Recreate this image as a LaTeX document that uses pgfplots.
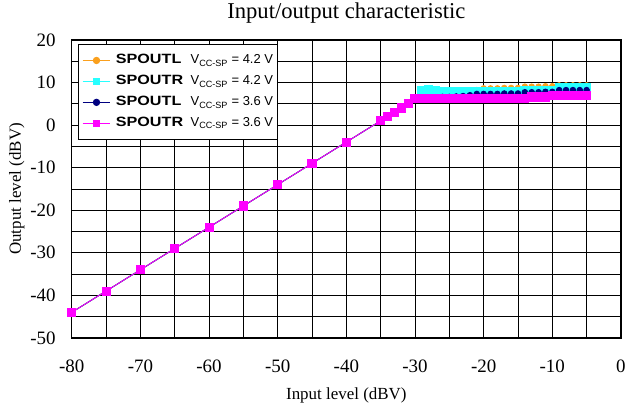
\documentclass[border=0pt]{standalone}
\usepackage{pgfplots}
\pgfplotsset{compat=1.18}
\usepackage{fontspec}
\setmainfont{Liberation Serif}
\newfontfamily\arial{Liberation Sans}

\definecolor{cOrange}{RGB}{250,160,30}
\definecolor{cCyan}{RGB}{40,255,255}
\definecolor{cNavy}{RGB}{0,0,128}
\definecolor{cMagenta}{RGB}{255,0,255}

\newcommand{\entry}[2]{\hspace{5pt}\makebox[75pt][l]{\scalebox{1.2}[1]{\fontsize{13.5}{16}\selectfont\bfseries #1}}V\textsubscript{CC-SP} = #2 V}

\begin{document}
\begin{tikzpicture}
\begin{axis}[
  scale only axis,
  width=551pt, height=299pt,
  xmin=-80, xmax=0, ymin=-50, ymax=20,
  xtick={-80,-70,...,0}, minor xtick={-75,-65,...,-5},
  ytick={-50,-40,...,20}, minor ytick={-45,-35,...,15},
  xticklabels={-80,-70,-60,-50,-40,-30,-20,-10,0},
  yticklabels={-50,-40,-30,-20,-10,0,10,20},
  grid=both,
  major grid style={black, line width=0.6pt},
  minor grid style={black, line width=0.6pt},
  axis line style={line width=1.4pt},
  tick style={draw=none},
  tick label style={font=\fontsize{19}{19}\selectfont},
  xticklabel style={anchor=center, yshift=-28pt},
  yticklabel style={anchor=east, inner sep=0pt, xshift=-16pt},
  xlabel={Input level (dBV)},
  ylabel={Output level (dBV)},
  xlabel style={at={(axis description cs:0.5,-0.194)}, anchor=center},
  ylabel style={at={(axis description cs:-0.1,0.5)}, anchor=center},
  label style={font=\fontsize{17}{17}\selectfont},
  title={Input/output characteristic},
  title style={at={(axis description cs:0.5,1.05)}, anchor=base, inner sep=0pt,
    font=\fontsize{22.7}{23}\selectfont},
  legend style={at={(0.011,0.987)}, anchor=north west, draw=black, line width=0.6pt,
    font=\arial\fontsize{13}{16}\selectfont, row sep=6pt, inner xsep=4pt, inner ysep=9pt,
    nodes={inner sep=0pt, text height=11pt, text depth=4pt}},
  legend cell align=left,
  legend image code/.code={
    \draw[#1, mark size=3.2pt, mark repeat=2, mark phase=2]
      plot coordinates {(0pt,0pt) (14pt,0pt) (28pt,0pt)};
  },
]

% SPOUTL, VCC-SP = 4.2 V
\addplot[cOrange, line width=0.9pt, mark=*, mark size=2.8pt] coordinates {
 (-80,-44) (-75,-39) (-70,-34) (-65,-29) (-60,-24) (-55,-19) (-50,-14) (-45,-9) (-40,-4)
 (-35,1) (-34,2) (-33,3) (-32,4) (-31,5) (-30,6.4)
 (-29,7.8) (-28,7.8) (-27,7.8) (-26,7.7) (-25,7.7) (-24,7.7) (-23,7.7) (-22,7.8) (-21,8.2)
 (-20,8.6) (-19,8.6) (-18,8.6) (-17,8.7) (-16,8.7) (-15,8.7)
 (-14,9.0) (-13,9.0) (-12,9.0) (-11,9.1) (-10,9.1)
 (-9,9.3) (-8,9.3) (-7,9.3) (-6,9.3) (-5,9.3)
};
% SPOUTR, VCC-SP = 4.2 V
\addplot[cCyan, line width=0.9pt, mark=square*, mark size=4.1pt] coordinates {
 (-80,-44) (-75,-39) (-70,-34) (-65,-29) (-60,-24) (-55,-19) (-50,-14) (-45,-9) (-40,-4)
 (-35,1) (-34,2) (-33,3) (-32,4) (-31,5) (-30,6.3)
 (-29,8.2) (-28,8.3) (-27,8.2) (-26,7.9) (-25,7.8) (-24,7.8) (-23,7.8) (-22,7.8) (-21,7.8)
 (-20,7.8) (-19,7.8) (-18,7.8) (-17,7.8) (-16,7.8) (-15,7.8)
 (-14,8.2) (-13,8.2) (-12,8.2) (-11,8.2) (-10,8.2)
 (-9,8.7) (-8,8.7) (-7,8.7) (-6,8.7) (-5,8.7)
};
% SPOUTL, VCC-SP = 3.6 V
\addplot[cNavy, line width=0.9pt, mark=*, mark size=2.8pt] coordinates {
 (-80,-44) (-75,-39) (-70,-34) (-65,-29) (-60,-24) (-55,-19) (-50,-14) (-45,-9) (-40,-4)
 (-35,1) (-34,2) (-33,3) (-32,4) (-31,5) (-30,6.2)
 (-29,6.5) (-28,6.5) (-27,6.5) (-26,6.6) (-25,6.6) (-24,6.7) (-23,6.8) (-22,7.0) (-21,7.3)
 (-20,7.3) (-19,7.3) (-18,7.3) (-17,7.4) (-16,7.4) (-15,7.4)
 (-14,7.7) (-13,7.7) (-12,7.7) (-11,7.8) (-10,7.8)
 (-9,8.2) (-8,8.2) (-7,8.2) (-6,8.2) (-5,8.2)
};
% SPOUTR, VCC-SP = 3.6 V
\addplot[cMagenta, line width=0.9pt, mark=square*, mark size=4.1pt] coordinates {
 (-80,-44) (-75,-39) (-70,-34) (-65,-29) (-60,-24) (-55,-19) (-50,-14) (-45,-9) (-40,-4)
 (-35,1) (-34,2) (-33,3) (-32,4) (-31,5) (-30,6.2)
 (-29,6.3) (-28,6.3) (-27,6.2) (-26,6.2) (-25,6.2) (-24,6.2) (-23,6.2) (-22,6.2) (-21,6.2)
 (-20,6.2) (-19,6.2) (-18,6.2) (-17,6.2) (-16,6.2) (-15,6.2)
 (-14,6.2) (-13,6.6) (-12,6.6) (-11,6.6) (-10,7.0)
 (-9,7.0) (-8,7.0) (-7,7.0) (-6,7.0) (-5,7.0)
};

\legend{\entry{SPOUTL}{4.2}, \entry{SPOUTR}{4.2}, \entry{SPOUTL}{3.6}, \entry{SPOUTR}{3.6}}
\end{axis}
% fix the page to the reference's margins round the axis box
\path[use as bounding box] ([xshift=-72pt,yshift=-73pt]current axis.south west)
  rectangle ([xshift=6pt,yshift=40pt]current axis.north east);
\end{tikzpicture}
\end{document}
